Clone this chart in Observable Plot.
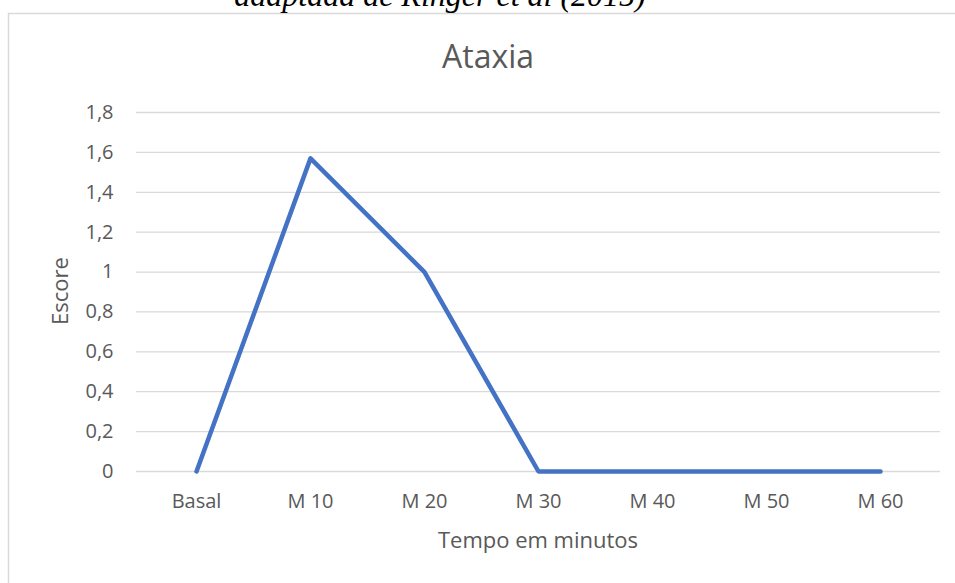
<!DOCTYPE html>
<html>
<head>
<meta charset="utf-8">
<script src="https://cdn.jsdelivr.net/npm/d3@7"></script>
<script src="https://cdn.jsdelivr.net/npm/@observablehq/plot@0.6"></script>
<style>
  html, body { margin: 0; padding: 0; background: #fff; }
  #chart { width: 955px; height: 583px; overflow: hidden; }
</style>
</head>
<body>
<div id="chart"></div>
<script>
const categories = ["Basal", "M 10", "M 20", "M 30", "M 40", "M 50", "M 60"];
const escore = [0, 1.57, 1.0, 0, 0, 0, 0];
const yTicks = [0, 0.2, 0.4, 0.6, 0.8, 1, 1.2, 1.4, 1.6, 1.8];
const yTickLabels = ["0", "0,2", "0,4", "0,6", "0,8", "1", "1,2", "1,4", "1,6", "1,8"];
const chartTitle = "Ataxia";
const xTitle = "Tempo em minutos";
const yTitle = "Escore";
const topNote = "adaptada de Ringer et al (2015)";

const data = categories.map((c, i) => ({ cat: c, v: escore[i] }));
const textColor = "#595959";
const font = "'Open Sans', sans-serif";

const plot = Plot.plot({
  width: 955,
  height: 583,
  marginLeft: 136,
  marginRight: 15,
  marginTop: 112,
  marginBottom: 112,
  style: { fontFamily: font, fontSize: "20px", color: textColor, background: "#fff" },
  x: { type: "point", domain: categories, padding: 0.5 },
  y: { domain: [0, 1.8] },
  marks: [
    Plot.gridY(yTicks, { stroke: "#d9d9d9", strokeOpacity: 1, strokeWidth: 1.3 }),
    Plot.axisY({ ticks: yTicks, tickSize: 0, tickPadding: 23, label: null,
      tickFormat: d => yTickLabels[yTicks.indexOf(d)], fill: textColor, fontSize: 20 }),
    Plot.axisX({ tickSize: 0, tickPadding: 22, label: null, fill: textColor, fontSize: 20 }),
    Plot.line(data, { x: "cat", y: "v", stroke: "#4472C4", strokeWidth: 4.5,
      strokeLinejoin: "round", strokeLinecap: "round" })
  ]
});

document.getElementById("chart").appendChild(plot);

const svg = d3.select(plot);
// chart area border (top and left visible)
svg.append("path")
  .attr("d", "M8.5,583 L8.5,13.5 L955,13.5")
  .attr("fill", "none")
  .attr("stroke", "#d9d9d9")
  .attr("stroke-width", 1.5);

// cut-off note above the chart
svg.append("text")
  .attr("x", 440).attr("y", 6)
  .attr("text-anchor", "middle")
  .attr("font-family", "'Liberation Serif', 'Times New Roman', serif")
  .attr("font-style", "italic")
  .attr("font-size", 32)
  .attr("fill", "#000")
  .text(topNote);

// title
svg.append("text")
  .attr("x", 488).attr("y", 68)
  .attr("text-anchor", "middle")
  .attr("font-family", font)
  .attr("font-size", 32)
  .attr("fill", textColor)
  .text(chartTitle);

// x axis title
svg.append("text")
  .attr("x", 538).attr("y", 548)
  .attr("text-anchor", "middle")
  .attr("font-family", font)
  .attr("font-size", 22)
  .attr("fill", textColor)
  .text(xTitle);

// y axis title
svg.append("text")
  .attr("transform", "translate(68,291) rotate(-90)")
  .attr("text-anchor", "middle")
  .attr("font-family", font)
  .attr("font-size", 22)
  .attr("fill", textColor)
  .text(yTitle);
</script>
</body>
</html>
